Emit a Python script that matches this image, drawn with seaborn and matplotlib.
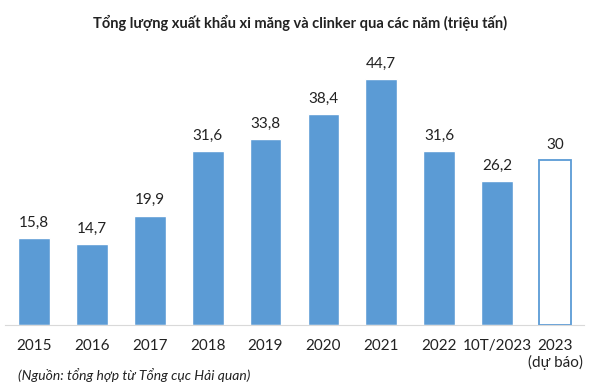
import matplotlib
matplotlib.use("Agg")
import matplotlib.pyplot as plt
import seaborn as sns
import pandas as pd

# du lieu
nam = ["2015", "2016", "2017", "2018", "2019", "2020", "2021", "2022", "10T/2023", "2023\n(dự báo)"]
san_luong = [15.8, 14.7, 19.9, 31.6, 33.8, 38.4, 44.7, 31.6, 26.2, 30]
nhan = ["15,8", "14,7", "19,9", "31,6", "33,8", "38,4", "44,7", "31,6", "26,2", "30"]

tabela = pd.DataFrame({"nam": nam, "san_luong": san_luong})

sns.set_style("white")
plt.rcParams["font.family"] = ["Lato", "DejaVu Sans"]

fig = plt.figure(figsize=(6, 3.9), dpi=100)
ax = fig.add_axes([0.0083, 0.1667, 0.965, 0.705])

mau = ["#5B9BD5"] * 9 + ["white"]
sns.barplot(data=tabela, x="nam", y="san_luong", hue="nam", palette=mau,
            legend=False, width=0.55, saturation=1, ax=ax)
# cot du bao: chi co vien
ax.patches[-1].set_edgecolor("#5B9BD5")
ax.patches[-1].set_linewidth(1.3)

for cont, lb in zip(ax.containers, nhan):
    ax.bar_label(cont, labels=[lb], padding=6, fontsize=11, color="#222222")

ax.set_ylim(0, 50)
ax.set_xlim(-0.5, 9.5)
ax.set_xlabel("")
ax.set_ylabel("")
ax.set_yticks([])
for s in ["top", "right", "left"]:
    ax.spines[s].set_visible(False)
ax.spines["bottom"].set_color("#D9D9D9")
ax.tick_params(axis="x", length=0, pad=10, labelsize=11, labelcolor="#222222")

fig.text(0.5, 0.94, "Tổng lượng xuất khẩu xi măng và clinker qua các năm (triệu tấn)",
         ha="center", va="center", fontsize=10.5, fontweight="bold", color="#222222")
fig.text(0.03, 0.038, "(Nguồn: tổng hợp từ Tổng cục Hải quan)", ha="left", va="center",
         fontsize=10, style="italic", color="#222222")

fig.savefig("out.png", dpi=100)
